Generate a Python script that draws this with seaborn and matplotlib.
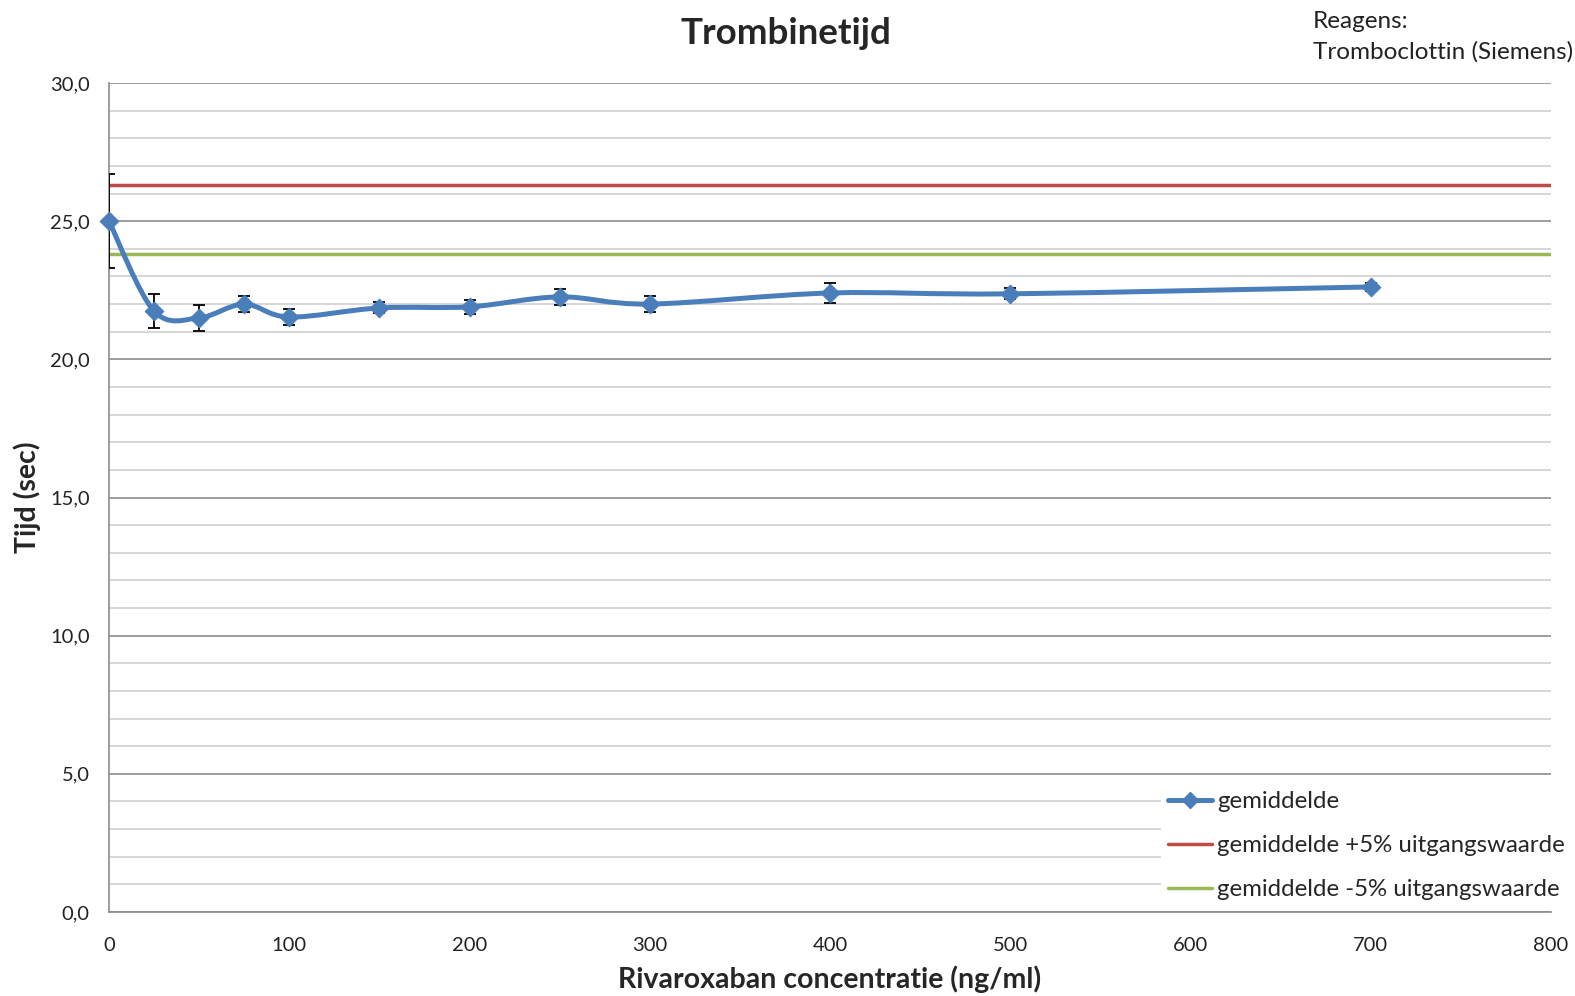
import matplotlib
matplotlib.use("Agg")
import matplotlib.pyplot as plt
from matplotlib.path import Path
from matplotlib.patches import PathPatch
from matplotlib.lines import Line2D
from matplotlib.ticker import MultipleLocator, FuncFormatter
import seaborn as sns
import pandas as pd

# values
concentration = [0, 25, 50, 75, 100, 150, 200, 250, 300, 400, 500, 700]
mean_time = [25.0, 21.75, 21.5, 22.0, 21.53, 21.86, 21.9, 22.26, 22.0, 22.4, 22.37, 22.62]
std_time = [1.7, 0.6, 0.47, 0.3, 0.3, 0.2, 0.25, 0.3, 0.3, 0.35, 0.2, 0.15]
upper_limit = 26.3
lower_limit = 23.8

blue = "#4a7ebb"
red = "#be4b48"
green = "#98b954"

df = pd.DataFrame({"conc": concentration, "tijd": mean_time, "sd": std_time})

sns.set_style("white")
plt.rcParams["font.family"] = ["Lato", "DejaVu Sans"]

fig = plt.figure(figsize=(15.75, 9.96), dpi=100)
ax = fig.add_axes([0.0692, 0.0843, 0.9156, 0.8324])

ax.set_xlim(0, 800)
ax.set_ylim(0, 30)

# grid: light every 1, darker every 5
ax.yaxis.set_major_locator(MultipleLocator(5))
ax.yaxis.set_minor_locator(MultipleLocator(1))
ax.xaxis.set_major_locator(MultipleLocator(100))
ax.grid(which="minor", axis="y", color="#d0d0d0", lw=1.2)
ax.grid(which="major", axis="y", color="#8c8c8c", lw=1.2)
ax.set_axisbelow(True)

ax.axhline(upper_limit, color=red, lw=2.5, zorder=2)
ax.axhline(lower_limit, color=green, lw=2.5, zorder=2)

# smooth line like excel (catmull-rom bezier through the means)
pts = list(zip(df["conc"], df["tijd"]))
verts = [pts[0]]
codes = [Path.MOVETO]
n = len(pts)
for i in range(n - 1):
    p0 = pts[i - 1] if i > 0 else pts[i]
    p1 = pts[i]
    p2 = pts[i + 1]
    p3 = pts[i + 2] if i + 2 < n else pts[i + 1]
    c1 = (p1[0] + (p2[0] - p0[0]) / 6, p1[1] + (p2[1] - p0[1]) / 6)
    c2 = (p2[0] - (p3[0] - p1[0]) / 6, p2[1] - (p3[1] - p1[1]) / 6)
    verts += [c1, c2, p2]
    codes += [Path.CURVE4] * 3
ax.add_patch(PathPatch(Path(verts, codes), fill=False, edgecolor=blue, lw=3.6,
                       capstyle="round", joinstyle="round", zorder=3))

ax.errorbar(df["conc"], df["tijd"], yerr=df["sd"], fmt="none", ecolor="black",
            elinewidth=1.3, capsize=4, capthick=1.3, zorder=4)
sns.scatterplot(data=df, x="conc", y="tijd", marker="D", s=90, color=blue,
                edgecolor=blue, ax=ax, zorder=5, legend=False, clip_on=False)

ax.yaxis.set_major_formatter(FuncFormatter(lambda v, p: f"{v:.1f}".replace(".", ",")))
ax.tick_params(axis="both", which="both", length=0, labelsize=14.5, colors="#222222")
ax.tick_params(axis="x", pad=18)
ax.tick_params(axis="y", pad=14)

for side in ["top", "right"]:
    ax.spines[side].set_visible(False)
for side in ["left", "bottom"]:
    ax.spines[side].set_color("#8c8c8c")
    ax.spines[side].set_linewidth(1.2)

ax.set_xlabel("Rivaroxaban concentratie (ng/ml)", fontsize=20.5, fontweight="bold", labelpad=8)
ax.set_ylabel("Tijd (sec)", fontsize=20.5, fontweight="bold", labelpad=6)
fig.text(0.499, 0.966, "Trombinetijd", ha="center", va="center", fontsize=26.5, fontweight="bold")
fig.text(0.8335, 0.978, "Reagens:", ha="left", va="center", fontsize=17.5, color="#222222")
fig.text(0.8335, 0.948, "Tromboclottin (Siemens)", ha="left", va="center", fontsize=17.5, color="#222222")

handles = [
    Line2D([], [], color=blue, lw=3.6, marker="D", markersize=8),
    Line2D([], [], color=red, lw=2.5),
    Line2D([], [], color=green, lw=2.5),
]
labels = ["gemiddelde", "gemiddelde +5% uitgangswaarde", "gemiddelde -5% uitgangswaarde"]
leg = ax.legend(handles, labels, loc="lower right", bbox_to_anchor=(1.018, 0.0),
                frameon=True, fontsize=17.3, handlelength=1.85, handletextpad=0.2,
                labelspacing=0.95, borderaxespad=0.2, borderpad=0.3, fancybox=False)
leg.get_frame().set_edgecolor("white")
leg.get_frame().set_facecolor("white")
leg.get_frame().set_alpha(1.0)

fig.savefig("out.png", dpi=100, facecolor="white")
